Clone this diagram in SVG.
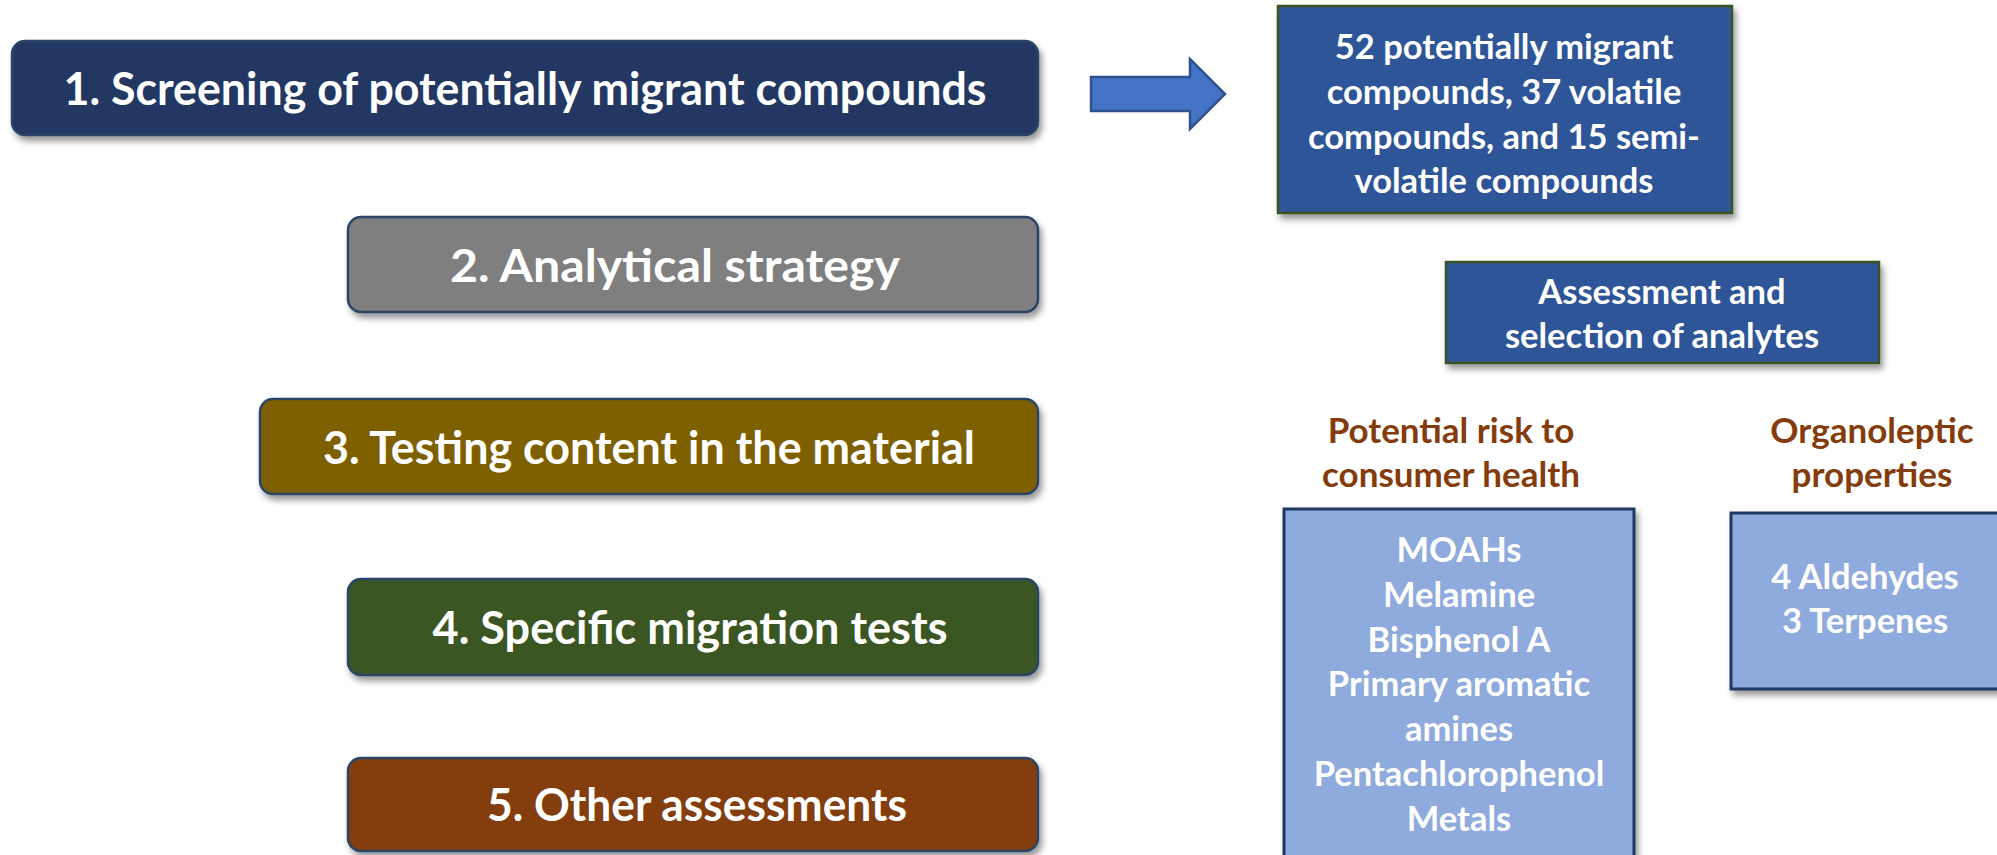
<svg xmlns="http://www.w3.org/2000/svg" width="1997" height="855" viewBox="0 0 1997 855">
  <defs>
    <filter id="shadow" x="-5%" y="-20%" width="115%" height="150%">
      <feDropShadow dx="3" dy="5" stdDeviation="3" flood-color="#000" flood-opacity="0.4"/>
    </filter>
  </defs>
  <style>
    text { font-family: Lato, "Open Sans", "Liberation Sans", sans-serif; font-weight: 700; text-anchor: middle; }
    .step { fill: #fff; font-size: 46px; }
    .step-box { stroke: #2b4466; stroke-width: 2.5; filter: url(#shadow); }
    .info { fill: #2f5597; stroke: #3a5320; stroke-width: 2.5; filter: url(#shadow); }
    .list { fill: #8faadc; stroke: #1f3864; stroke-width: 3; filter: url(#shadow); }
    .info-text { fill: #fff; font-size: 34.5px; }
    .label { fill: #843c0c; font-size: 35px; }
  </style>

  <!-- process steps -->
  <g id="step1">
    <rect class="step-box" x="12" y="41" width="1026" height="94" rx="13" fill="#203864" stroke="#1a2e52"/>
    <text class="step" x="525" y="105" textLength="923" lengthAdjust="spacingAndGlyphs">1. Screening of potentially migrant compounds</text>
  </g>
  <g id="step2">
    <rect class="step-box" x="348" y="217" width="690" height="95" rx="13" fill="#7f7f7f"/>
    <text class="step" x="675" y="282" textLength="450" lengthAdjust="spacingAndGlyphs">2. Analytical strategy</text>
  </g>
  <g id="step3">
    <rect class="step-box" x="260" y="399" width="778" height="95" rx="13" fill="#7f6000"/>
    <text class="step" x="649" y="464" textLength="652" lengthAdjust="spacingAndGlyphs">3. Testing content in the material</text>
  </g>
  <g id="step4">
    <rect class="step-box" x="348" y="579" width="690" height="96" rx="13" fill="#3b5724"/>
    <text class="step" x="690" y="644" textLength="515" lengthAdjust="spacingAndGlyphs">4. Specific migration tests</text>
  </g>
  <g id="step5">
    <rect class="step-box" x="348" y="758" width="690" height="93" rx="13" fill="#843c0c"/>
    <text class="step" x="697" y="821" textLength="420" lengthAdjust="spacingAndGlyphs">5. Other assessments</text>
  </g>

  <!-- connector: block arrow from step 1 to its result -->
  <g id="connectors">
    <polygon points="1091,77 1190,77 1190,59 1225,94 1190,129 1190,111 1091,111" fill="#4472c4" stroke="#2f528f" stroke-width="2.5" stroke-linejoin="miter"/>
  </g>

  <!-- screening result -->
  <g id="screening-result">
    <rect class="info" x="1278" y="6" width="454" height="207"/>
    <text class="info-text" x="1504" y="59">52 potentially migrant</text>
    <text class="info-text" x="1504" y="104">compounds, 37 volatile</text>
    <text class="info-text" x="1504" y="149">compounds, and 15 semi-</text>
    <text class="info-text" x="1504" y="193">volatile compounds</text>
  </g>

  <g id="assessment">
    <rect class="info" x="1446" y="262" width="433" height="101"/>
    <text class="info-text" x="1662" y="304">Assessment and</text>
    <text class="info-text" x="1662" y="348">selection of analytes</text>
  </g>

  <!-- criteria headings -->
  <g id="health-label">
    <text class="label" x="1451" y="443">Potential risk to</text>
    <text class="label" x="1451" y="487">consumer health</text>
  </g>
  <g id="organoleptic-label">
    <text class="label" x="1872" y="443">Organoleptic</text>
    <text class="label" x="1872" y="487">properties</text>
  </g>

  <!-- selected analytes -->
  <g id="health-analytes">
    <rect class="list" x="1284" y="509" width="350" height="360"/>
    <text class="info-text" x="1459" y="562">MOAHs</text>
    <text class="info-text" x="1459" y="607">Melamine</text>
    <text class="info-text" x="1459" y="652">Bisphenol A</text>
    <text class="info-text" x="1459" y="696">Primary aromatic</text>
    <text class="info-text" x="1459" y="741">amines</text>
    <text class="info-text" x="1459" y="786">Pentachlorophenol</text>
    <text class="info-text" x="1459" y="831">Metals</text>
  </g>
  <g id="organoleptic-analytes">
    <rect class="list" x="1731" y="513" width="290" height="176"/>
    <text class="info-text" x="1865" y="589">4 Aldehydes</text>
    <text class="info-text" x="1865" y="633">3 Terpenes</text>
  </g>
</svg>
